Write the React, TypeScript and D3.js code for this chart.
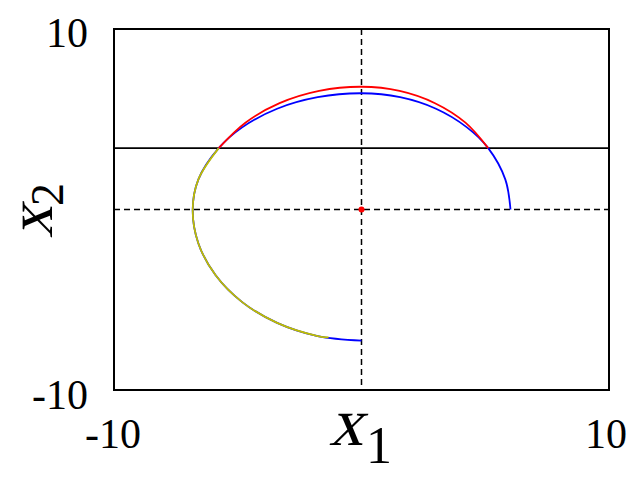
import React, { useEffect, useRef } from "react";
import * as d3 from "d3";

// trajectory: [x1, x2]
const bluePath: [number, number][] = [
  [6.02, 0], [5.81, 1.67], [5.12, 3.4], [4.26, 4.55], [3.01, 5.58], [1.56, 6.22],
  [0, 6.44], [-1.77, 6.22], [-3.41, 5.58], [-4.82, 4.55], [-5.77, 3.4], [-6.59, 1.67],
  [-6.82, 0], [-6.59, -1.88], [-5.9, -3.63], [-4.82, -5.13], [-3.41, -6.28],
  [-1.77, -7.01], [0, -7.26],
];
const redPath: [number, number][] = [
  [5.12, 3.4], [4.2, 4.81], [2.97, 5.89], [1.54, 6.57], [0, 6.8],
  [-1.71, 6.57], [-3.31, 5.89], [-4.69, 4.81], [-5.77, 3.4],
];
const yellowPath: [number, number][] = [
  [-5.77, 3.4], [-6.59, 1.67], [-6.82, 0], [-6.59, -1.88], [-5.9, -3.63],
  [-4.82, -5.13], [-3.41, -6.28], [-1.77, -7.01], [-1.33, -7.09],
];
const switchLevel = 3.4;
const equilibrium: [number, number] = [0, 0];
const xDomain = [-10, 10];
const yDomain = [-10, 10];
const xTicks = ["-10", "10"];
const yTicks = ["-10", "10"];

const App = () => {
  const ref = useRef<SVGSVGElement>(null);

  useEffect(() => {
    document.body.style.margin = "0";
    const svg = d3.select(ref.current);
    svg.selectAll("*").remove();

    const left = 114, right = 609, top = 29, bottom = 390;
    const x = d3.scaleLinear().domain(xDomain).range([left, right]);
    const y = d3.scaleLinear().domain(yDomain).range([bottom, top]);
    const font = "'Liberation Serif', 'Times New Roman', serif";

    // reference lines
    svg.append("line")
      .attr("x1", x(0)).attr("x2", x(0)).attr("y1", top).attr("y2", bottom)
      .attr("stroke", "black").attr("stroke-width", 1.5).attr("stroke-dasharray", "6,4");
    svg.append("line")
      .attr("x1", left).attr("x2", right).attr("y1", y(0)).attr("y2", y(0))
      .attr("stroke", "black").attr("stroke-width", 1.5).attr("stroke-dasharray", "6,4");
    svg.append("line")
      .attr("x1", left).attr("x2", right).attr("y1", y(switchLevel)).attr("y2", y(switchLevel))
      .attr("stroke", "black").attr("stroke-width", 1.6);

    const line = d3.line<[number, number]>()
      .x((d) => x(d[0]))
      .y((d) => y(d[1]))
      .curve(d3.curveCatmullRom);

    svg.append("path").attr("d", line(bluePath)).attr("fill", "none")
      .attr("stroke", "#0000ff").attr("stroke-width", 1.8);
    svg.append("path").attr("d", line(redPath)).attr("fill", "none")
      .attr("stroke", "#ff0000").attr("stroke-width", 1.8);
    svg.append("path").attr("d", line(yellowPath)).attr("fill", "none")
      .attr("stroke", "#bfbf00").attr("stroke-width", 1.8);

    svg.append("circle")
      .attr("cx", x(equilibrium[0])).attr("cy", y(equilibrium[1])).attr("r", 3)
      .attr("fill", "#ff0000");

    // frame
    svg.append("rect")
      .attr("x", left).attr("y", top).attr("width", right - left).attr("height", bottom - top)
      .attr("fill", "none").attr("stroke", "black").attr("stroke-width", 2);

    // tick labels
    svg.selectAll(".xt").data(xTicks).enter().append("text")
      .attr("x", (d) => x(+d) + (+d > 0 ? -3 : -1)).attr("y", 448)
      .attr("text-anchor", "middle").attr("font-family", font).attr("font-size", 42)
      .text((d) => d);
    svg.selectAll(".yt").data(yTicks).enter().append("text")
      .attr("x", 88).attr("y", (d) => y(+d) + (+d > 0 ? 18 : 19))
      .attr("text-anchor", "end").attr("font-family", font).attr("font-size", 42)
      .text((d) => d);

    // axis labels (slanted by hand so the math italic look does not rely on an italic face)
    svg.append("text").attr("transform", "translate(329,445) skewX(-14)")
      .attr("font-family", font).attr("font-size", 68).text("x");
    svg.append("text").attr("transform", "translate(366,463)")
      .attr("font-family", font).attr("font-size", 52).text("1");

    svg.append("text").attr("transform", "translate(52,238) rotate(-90) skewX(-14)")
      .attr("font-family", font).attr("font-size", 64).text("x");
    svg.append("text").attr("transform", "translate(63,206) rotate(-90)")
      .attr("font-family", font).attr("font-size", 46).text("2");
  }, []);

  return <svg ref={ref} width={640} height={478} style={{ display: "block", background: "white" }} />;
};

export default App;
